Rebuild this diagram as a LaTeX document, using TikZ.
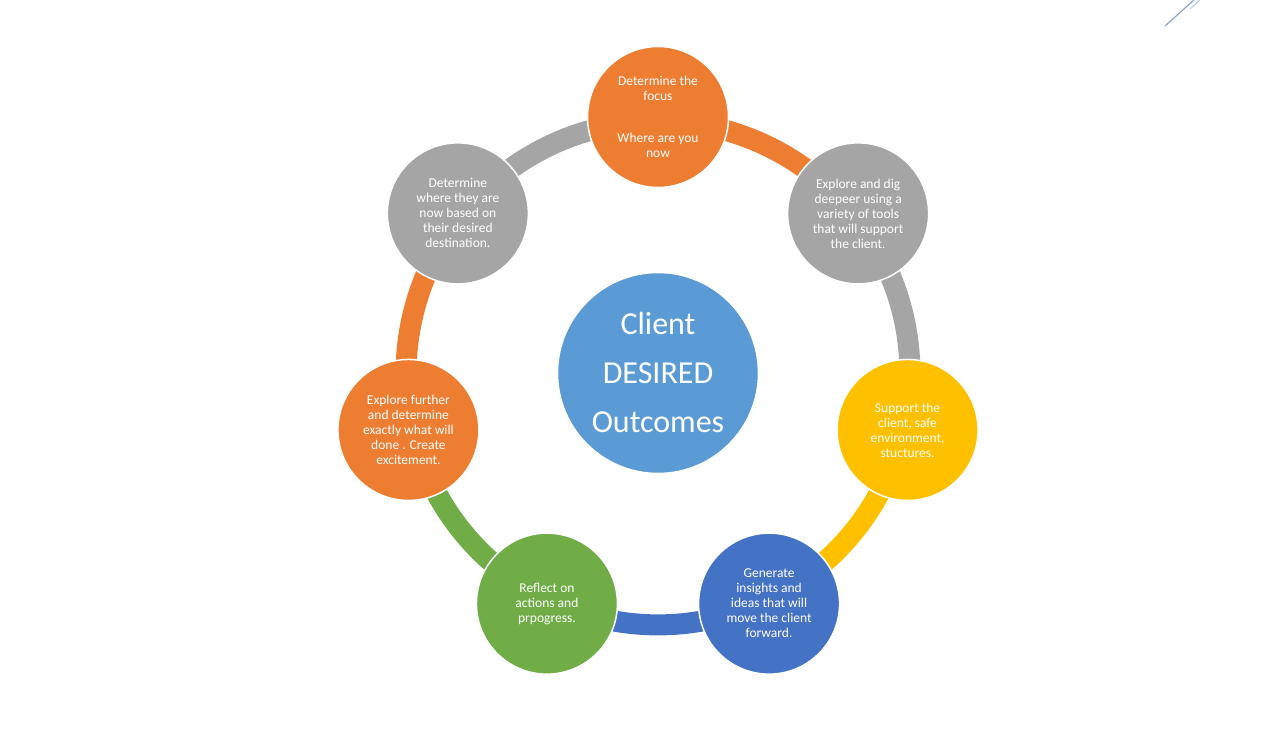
\documentclass[tikz,border=0pt]{standalone}
\usepackage{fontspec}
\setmainfont{Carlito}
\usetikzlibrary{calc}
\definecolor{corange}{HTML}{ED7D31}
\definecolor{cgray}{HTML}{A5A5A5}
\definecolor{cyellow}{HTML}{FFC000}
\definecolor{cblue}{HTML}{4472C4}
\definecolor{cgreen}{HTML}{70AD47}
\definecolor{clight}{HTML}{5B9BD5}
\definecolor{cdeco}{HTML}{8EA6C9}
\pgfdeclarelayer{bg}
\pgfsetlayers{bg,main}
\begin{document}
\begin{tikzpicture}[x=1pt,y=1pt,
  bub/.style={circle, minimum size=141pt, inner sep=0pt, draw=white, line width=1.5pt,
    text=white, align=center, font=\fontsize{13.5}{15}\selectfont},
  hub/.style={circle, minimum size=201pt, inner sep=0pt, draw=white, line width=1.5pt,
    fill=clight, text=white, align=center, font=\fontsize{32}{49}\selectfont},
  ringarc/.style={line width=21pt}]
\useasboundingbox (0,0) rectangle (1263,734);
\node[hub] (cc) at (658,361) {Client\\DESIRED\\Outcomes};
\node[bub, fill=corange] (n0) at ($(cc.center)+(90:256)$) {Determine the\\focus\\[27pt]Where are you\\now};
\node[bub, fill=cgray] (n1) at ($(cc.center)+(38.5714:256)$) {Explore and dig\\deepeer using a\\variety of tools\\that will support\\the client.};
\node[bub, fill=cyellow] (n2) at ($(cc.center)+(-12.8571:256)$) {Support the\\client, safe\\environment,\\stuctures.};
\node[bub, fill=cblue] (n3) at ($(cc.center)+(-64.2857:256)$) {Generate\\insights and\\ideas that will\\move the client\\forward.};
\node[bub, fill=cgreen] (n4) at ($(cc.center)+(-115.7143:256)$) {Reflect on\\actions and\\prpogress.};
\node[bub, fill=corange] (n5) at ($(cc.center)+(-167.1429:256)$) {Explore further\\and determine\\exactly what will\\done . Create\\excitement.};
\node[bub, fill=cgray] (n6) at ($(cc.center)+(141.4286:256)$) {Determine\\where they are\\now based on\\their desired\\destination.};
\begin{pgfonlayer}{bg}
\draw[ringarc, corange] ($(cc.center)!0.984!(n0.center)$) arc[start angle=90, delta angle=-51.4286, radius=252];
\draw[ringarc, cgray] ($(cc.center)!0.984!(n1.center)$) arc[start angle=38.5714, delta angle=-51.4286, radius=252];
\draw[ringarc, cyellow] ($(cc.center)!0.984!(n2.center)$) arc[start angle=-12.8571, delta angle=-51.4286, radius=252];
\draw[ringarc, cblue] ($(cc.center)!0.984!(n3.center)$) arc[start angle=-64.2857, delta angle=-51.4286, radius=252];
\draw[ringarc, cgreen] ($(cc.center)!0.984!(n4.center)$) arc[start angle=-115.7143, delta angle=-51.4286, radius=252];
\draw[ringarc, corange] ($(cc.center)!0.984!(n5.center)$) arc[start angle=-167.1429, delta angle=-51.4286, radius=252];
\draw[ringarc, cgray] ($(cc.center)!0.984!(n6.center)$) arc[start angle=141.4286, delta angle=-51.4286, radius=252];
\end{pgfonlayer}
\draw[cdeco, line width=1.2pt] (1165,708) -- (1194,734);
\draw[cdeco!60, line width=1pt] (1190,725) -- (1200,734);
\end{tikzpicture}
\end{document}
